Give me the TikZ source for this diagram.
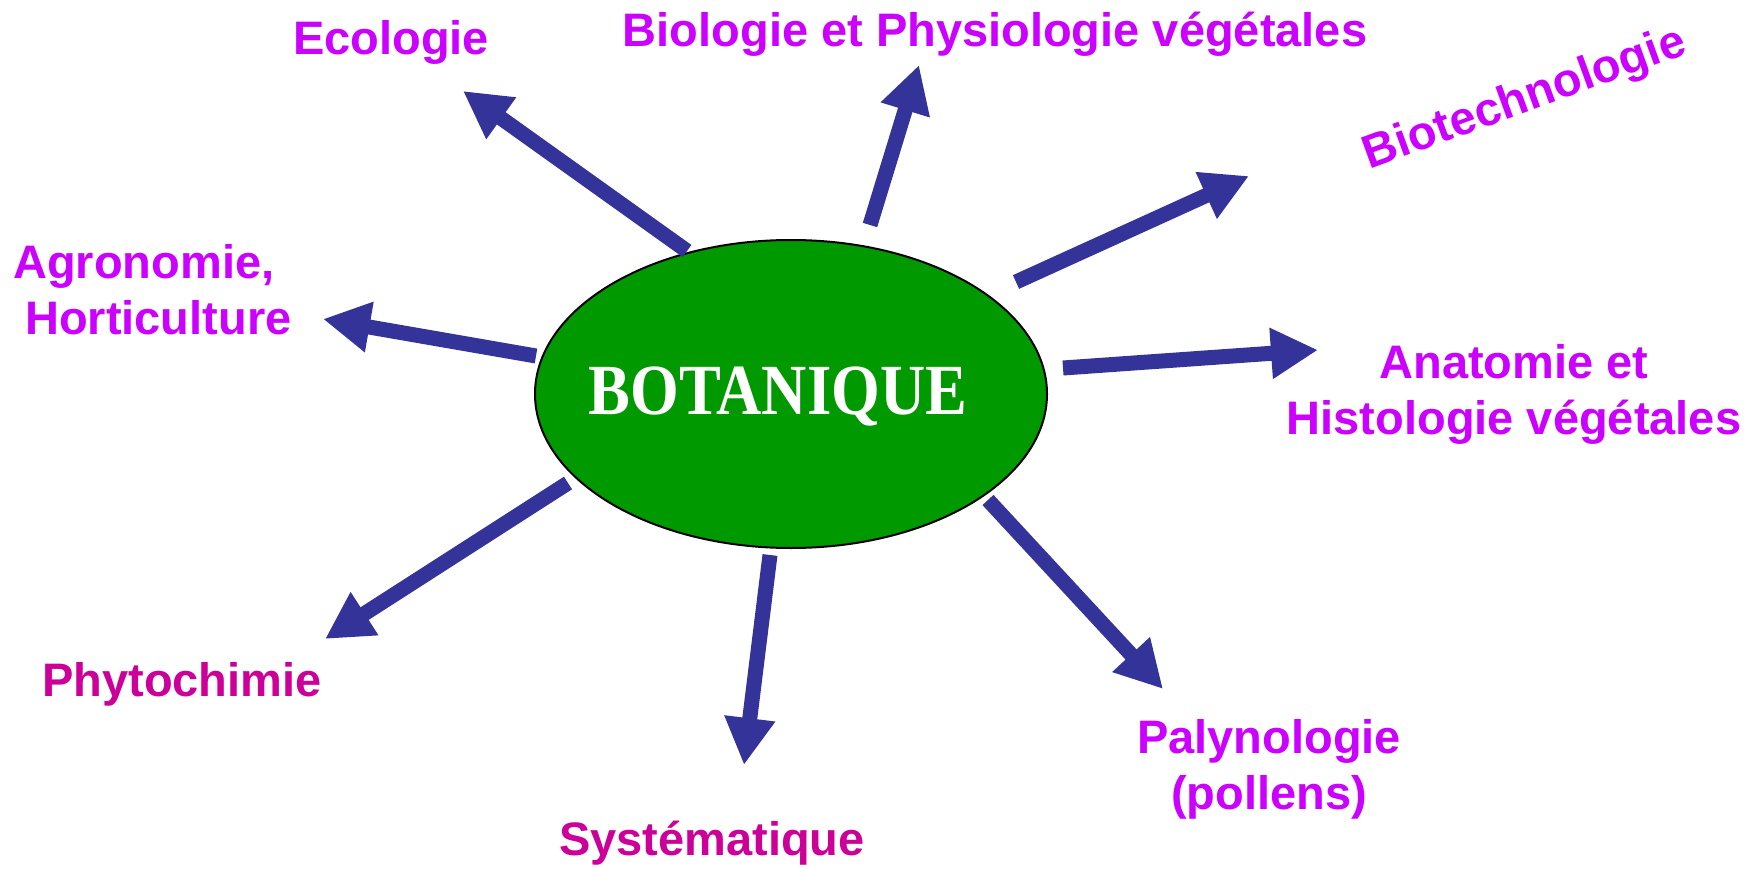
\documentclass[tikz,border=0pt]{standalone}
\usepackage{fontspec}
\setmainfont{Liberation Sans}
\newfontfamily\botfont[FakeStretch=0.87]{Liberation Serif}
\usetikzlibrary{arrows.meta,shapes.geometric}
\definecolor{labpurple}{HTML}{CC00FF}
\definecolor{labmagenta}{HTML}{CC0099}
\definecolor{arrowblue}{HTML}{333399}
\definecolor{botgreen}{HTML}{009900}
\tikzset{
  lab/.style={text=labpurple, font=\fontsize{47}{56}\selectfont\bfseries, inner sep=0pt, align=center},
  labm/.style={lab, text=labmagenta},
  fat/.style={draw=arrowblue, line width=15pt, -{Triangle[length=47pt,width=48pt]}},
  center/.style={ellipse, draw=black, line width=2pt, fill=botgreen, minimum width=512pt, minimum height=308pt, inner sep=0pt}
}
\begin{document}
\begin{tikzpicture}[x=1pt,y=-1pt]
\useasboundingbox (0,0) rectangle (1754,869);
\node[center] (bot) at (791,394) {};
\node[text=white, font=\botfont\fontsize{72}{80}\selectfont\bfseries, anchor=base, inner sep=0pt] (botlab) at (778,414) {BOTANIQUE};
% labels
\node[lab, anchor=base] (eco) at (391,55) {Ecologie};
\node[lab, anchor=base] (bio) at (995,47) {Biologie et Physiologie végétales};
\node[lab, rotate=20] (biotech) at (1525,100) {Biotechnologie};
\node[lab, align=left, anchor=base west] (agro) at (13,334) {Agronomie,\\\hspace*{12pt}Horticulture};
\node[lab, anchor=base] (ana) at (1514,434) {Anatomie et\\Histologie végétales};
\node[labm, anchor=base] (phyto) at (182,696) {Phytochimie};
\node[labm, anchor=base] (syst) at (712,855) {Systématique};
\node[lab, anchor=base] (paly) at (1269,809) {Palynologie\\(pollens)};
% arrow ends
\coordinate (s1) at (687,251); \coordinate (t1) at (463,91);
\coordinate (s2) at (870,225); \coordinate (t2) at (919,65);
\coordinate (s3) at (1016,282); \coordinate (t3) at (1249,176);
\coordinate (s4) at (1063,368); \coordinate (t4) at (1318,350);
\coordinate (s5) at (988,500); \coordinate (t5) at (1163,689);
\coordinate (s6) at (770,555); \coordinate (t6) at (744,765);
\coordinate (s7) at (568,483); \coordinate (t7) at (325,639);
\coordinate (s8) at (536,356); \coordinate (t8) at (323,319);
\draw[fat] (s1) -- (t1);
\draw[fat] (s2) -- (t2);
\draw[fat] (s3) -- (t3);
\draw[fat] (s4) -- (t4);
\draw[fat] (s5) -- (t5);
\draw[fat] (s6) -- (t6);
\draw[fat] (s7) -- (t7);
\draw[fat] (s8) -- (t8);
\end{tikzpicture}
\end{document}
